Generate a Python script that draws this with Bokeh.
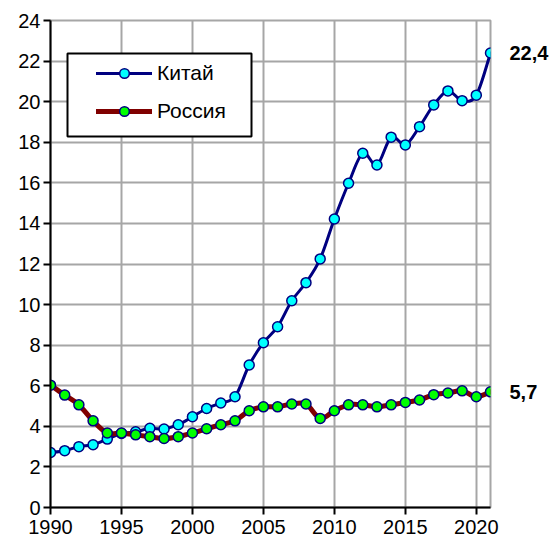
from bokeh.plotting import figure
from bokeh.models import (Legend, LegendItem, ColumnDataSource, Range1d,
                          FixedTicker, LinearAxis, BoxAnnotation)
from bokeh.embed import file_html
from bokeh.resources import INLINE

years = list(range(1990, 2022))
china = [2.71, 2.80, 3.00, 3.09, 3.37, 3.65, 3.73, 3.90, 3.87, 4.08,
         4.47, 4.88, 5.15, 5.46, 7.02, 8.12, 8.91, 10.19, 11.08, 12.25,
         14.22, 15.98, 17.46, 16.88, 18.25, 17.87, 18.77, 19.84, 20.53, 20.05,
         20.32, 22.4]
russia = [6.03, 5.54, 5.06, 4.27, 3.67, 3.67, 3.58, 3.49, 3.40, 3.49,
          3.67, 3.88, 4.08, 4.27, 4.77, 4.96, 4.96, 5.10, 5.10, 4.39,
          4.77, 5.06, 5.06, 4.96, 5.06, 5.18, 5.30, 5.56, 5.64, 5.75,
          5.46, 5.7]
series_names = ["Китай", "Россия"]
x_ticks = [1990, 1995, 2000, 2005, 2010, 2015, 2020]
y_ticks = list(range(0, 25, 2))

FONT = "Liberation Sans"


def smooth(xs, ys):
    n = len(xs)
    d = dict(x0=[], y0=[], x1=[], y1=[], cx0=[], cy0=[], cx1=[], cy1=[])
    for i in range(n - 1):
        im = i - 1 if i > 0 else i
        ip = i + 2 if i + 2 < n else i + 1
        d["x0"].append(xs[i]); d["y0"].append(ys[i])
        d["x1"].append(xs[i + 1]); d["y1"].append(ys[i + 1])
        d["cx0"].append(xs[i] + (xs[i + 1] - xs[im]) / 6)
        d["cy0"].append(ys[i] + (ys[i + 1] - ys[im]) / 6)
        d["cx1"].append(xs[i + 1] - (xs[ip] - xs[i]) / 6)
        d["cy1"].append(ys[i + 1] - (ys[ip] - ys[i]) / 6)
    return ColumnDataSource(d)


p = figure(width=552, height=542, output_backend="svg", toolbar_location=None,
           x_range=Range1d(1990, 2021), y_range=Range1d(0, 24),
           min_border_left=50, min_border_right=62, min_border_top=20,
           min_border_bottom=35, background_fill_color="white",
           border_fill_color="white")

p.outline_line_color = "#a6a6a6"
p.outline_line_width = 2

for ax, ticks in ((p.xaxis, x_ticks), (p.yaxis, y_ticks)):
    ax.ticker = FixedTicker(ticks=ticks)
    ax.axis_line_color = "black"
    ax.axis_line_width = 2
    ax.major_tick_line_color = "black"
    ax.major_tick_line_width = 2
    ax.major_tick_out = 7
    ax.major_tick_in = 0
    ax.minor_tick_line_color = None
    ax.major_label_text_font = FONT
    ax.major_label_text_font_size = "20px"
    ax.major_label_text_color = "black"
p.xaxis.major_label_standoff = 5
p.yaxis.major_label_standoff = 3

p.xgrid.ticker = FixedTicker(ticks=x_ticks)
p.ygrid.ticker = FixedTicker(ticks=y_ticks)
for g in (p.xgrid, p.ygrid):
    g.grid_line_color = "#a6a6a6"
    g.grid_line_width = 2

styles = [
    dict(line="#000080", width=3, fill="#00ffff"),
    dict(line="#800000", width=5, fill="#00ff00"),
]

items = []
for vals, name, st in zip((china, russia), series_names, styles):
    src = smooth(years, vals)
    p.bezier(x0="x0", y0="y0", x1="x1", y1="y1", cx0="cx0", cy0="cy0",
             cx1="cx1", cy1="cy1", source=src, line_color=st["line"],
             line_width=st["width"], line_cap="round")
    sc = p.scatter(years, vals, size=10, fill_color=st["fill"],
                   line_color="#000080", line_width=1.5)
    lg = p.line([float("nan")], [float("nan")], line_color=st["line"],
                line_width=st["width"], line_cap="round")
    items.append(LegendItem(label=name, renderers=[lg, sc]))

# last-value labels on a right-hand axis
last_vals = [china[-1], russia[-1]]
right = LinearAxis(ticker=FixedTicker(ticks=last_vals),
                   major_label_overrides={v: f"{v:.1f}".replace(".", ",")
                                          for v in last_vals},
                   axis_line_color=None, major_tick_line_color=None,
                   major_tick_in=0, major_tick_out=0, minor_tick_line_color=None,
                   major_label_standoff=19, major_label_text_font=FONT,
                   major_label_text_font_size="20px",
                   major_label_text_font_style="bold",
                   major_label_text_color="black")
p.add_layout(right, "right")

# legend frame (screen units, relative to the plot frame)
legend_box = BoxAnnotation(left=17, right=201, top=454, bottom=371,
                           left_units="screen", right_units="screen",
                           top_units="screen", bottom_units="screen",
                           fill_color="white", fill_alpha=1.0,
                           line_color="black", line_alpha=1.0, line_width=2,
                           editable=False)
p.add_layout(legend_box)

legend = Legend(items=items, location=(46, 384), padding=0, spacing=14,
                glyph_width=56, glyph_height=24, label_height=24,
                label_width=70, label_standoff=5,
                label_text_font=FONT, label_text_font_size="21px",
                label_text_color="black",
                border_line_color=None, background_fill_alpha=0.0)
p.add_layout(legend)

open("out.html", "w").write(file_html(p, INLINE))
